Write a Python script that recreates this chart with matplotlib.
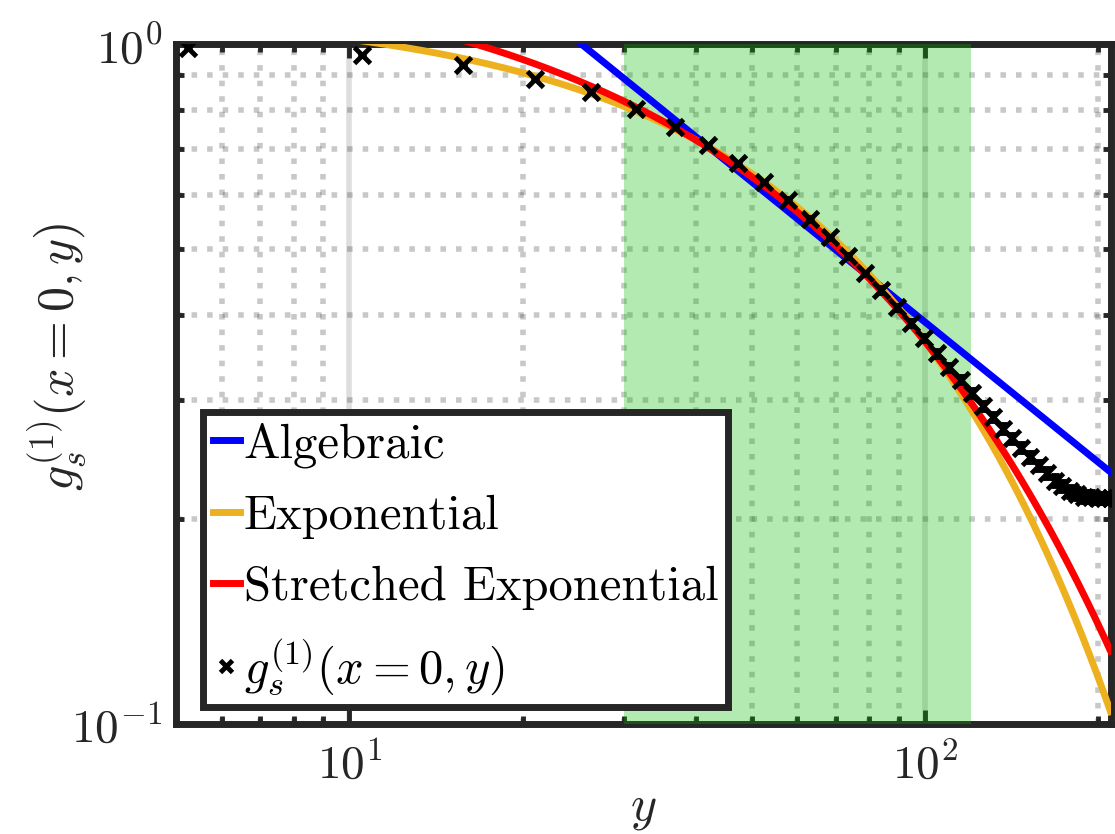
import numpy as np
import matplotlib
matplotlib.use('Agg')
import matplotlib.pyplot as plt
from matplotlib.lines import Line2D
from matplotlib.ticker import LogLocator, NullFormatter

plt.rcParams['font.family'] = 'serif'
plt.rcParams['font.serif'] = ['cmr10']
plt.rcParams['mathtext.fontset'] = 'cm'
plt.rcParams['axes.formatter.use_mathtext'] = True
plt.rcParams['axes.unicode_minus'] = False

# sampled correlation g_s^(1)(x=0, y)
y_pos = [5.25, 10.5, 15.75, 21.0, 26.25, 31.5, 36.75, 42.0, 47.25, 52.5,
         57.75, 63.0, 68.25, 73.5, 78.75, 84.0, 89.25, 94.5, 99.75, 105.0,
         110.25, 115.5, 120.75, 126.0, 131.25, 136.5, 141.75, 147.0, 152.25, 157.5,
         162.75, 168.0, 173.25, 178.5, 183.75, 189.0, 194.25, 199.5, 204.75, 210.0]
g_vals = [0.986, 0.963, 0.933, 0.889, 0.851, 0.802, 0.755, 0.710, 0.668, 0.627,
          0.590, 0.553, 0.520, 0.488, 0.460, 0.435, 0.410, 0.389, 0.370, 0.351,
          0.335, 0.321, 0.307, 0.294, 0.283, 0.272, 0.263, 0.255, 0.247, 0.240,
          0.234, 0.228, 0.224, 0.220, 0.218, 0.216, 0.216, 0.215, 0.215, 0.215]
g_err = [0.003, 0.003, 0.003, 0.003, 0.003, 0.003, 0.003, 0.003, 0.003, 0.003,
         0.003, 0.003, 0.003, 0.003, 0.003, 0.004, 0.004, 0.004, 0.004, 0.004,
         0.004, 0.004, 0.004, 0.004, 0.004, 0.004, 0.004, 0.004, 0.004, 0.004,
         0.004, 0.004, 0.004, 0.004, 0.004, 0.004, 0.004, 0.004, 0.004, 0.004]

# fit parameters
alg_y0, alg_p = 25.3, 0.685            # (y/y0)^-p
exp_A, exp_L = 1.14, 87.8              # A exp(-y/L)
str_A, str_L, str_b = 1.39, 68.9, 0.78 # A exp(-(y/L)^b)

fit_lo, fit_hi = 30, 120
xlim = (5, 210)
ylim = (0.1, 1)

yy = np.geomspace(xlim[0], xlim[1], 400)
alg = (yy / alg_y0) ** (-alg_p)
expo = exp_A * np.exp(-yy / exp_L)
stre = str_A * np.exp(-(yy / str_L) ** str_b)

dark = '#262626'
fig = plt.figure(figsize=(11.15, 8.34), dpi=100)
ax = fig.add_axes([0.158, 0.132, 0.838, 0.815])
ax.set_xscale('log')
ax.set_yscale('log')
ax.set_axisbelow(True)

ax.axvspan(fit_lo, fit_hi, color=(0.0, 0.73, 0.0), alpha=0.3, lw=0, zorder=3)

h1, = ax.plot(yy, alg, color=(0, 0, 1), lw=5, zorder=4)
h2, = ax.plot(yy, expo, color=(0.929, 0.694, 0.125), lw=5, zorder=4)
h3, = ax.plot(yy, stre, color=(1, 0, 0), lw=5, zorder=4)
ax.errorbar(y_pos, g_vals, yerr=g_err, fmt='x', color='black', ms=12, mew=3.5,
            elinewidth=1.5, capsize=3, capthick=1.5, zorder=5)
h4 = Line2D([], [], ls='none', marker='x', color='black', ms=9, mew=3.5)

ax.set_xlim(*xlim)
ax.set_ylim(*ylim)

ax.xaxis.set_minor_locator(LogLocator(base=10, subs=np.arange(2, 10)))
ax.yaxis.set_minor_locator(LogLocator(base=10, subs=np.arange(2, 10)))
ax.xaxis.set_minor_formatter(NullFormatter())
ax.yaxis.set_minor_formatter(NullFormatter())

ax.grid(which='major', color=(0.15, 0.15, 0.15), alpha=0.15, lw=4, ls='-')
ax.grid(which='minor', color=(0.15, 0.15, 0.15), alpha=0.25, lw=4, ls=(0, (1, 1.8)))

for s in ax.spines.values():
    s.set_linewidth(5)
    s.set_color(dark)
ax.tick_params(which='both', direction='in', top=True, right=True, color=dark,
               labelcolor=dark, labelsize=34)
ax.tick_params(which='major', length=10, width=3.5)
ax.tick_params(which='minor', length=6, width=3.5)
ax.tick_params(axis='x', which='major', pad=13)
ax.tick_params(axis='y', which='major', pad=10)

ax.set_xlabel(r'$y$', fontsize=36, color=dark)
ax.set_ylabel(r'$g_s^{(1)}(x=0,y)$', fontsize=36, color=dark)
ax.xaxis.set_label_coords(0.5, -0.092)
ax.yaxis.set_label_coords(-0.094, 0.54)

leg = ax.legend([h1, h2, h3, h4],
                ['Algebraic', 'Exponential', 'Stretched Exponential', r'$g_s^{(1)}(x=0,y)$'],
                loc='lower left', bbox_to_anchor=(0.029, 0.025), borderaxespad=0,
                fontsize=35, handlelength=0.55, handletextpad=0.08, borderpad=0.2,
                labelspacing=0.55, fancybox=False, framealpha=1, edgecolor=dark)
leg.get_frame().set_linewidth(5)
leg.set_zorder(10)

fig.savefig('out.png', dpi=100)
